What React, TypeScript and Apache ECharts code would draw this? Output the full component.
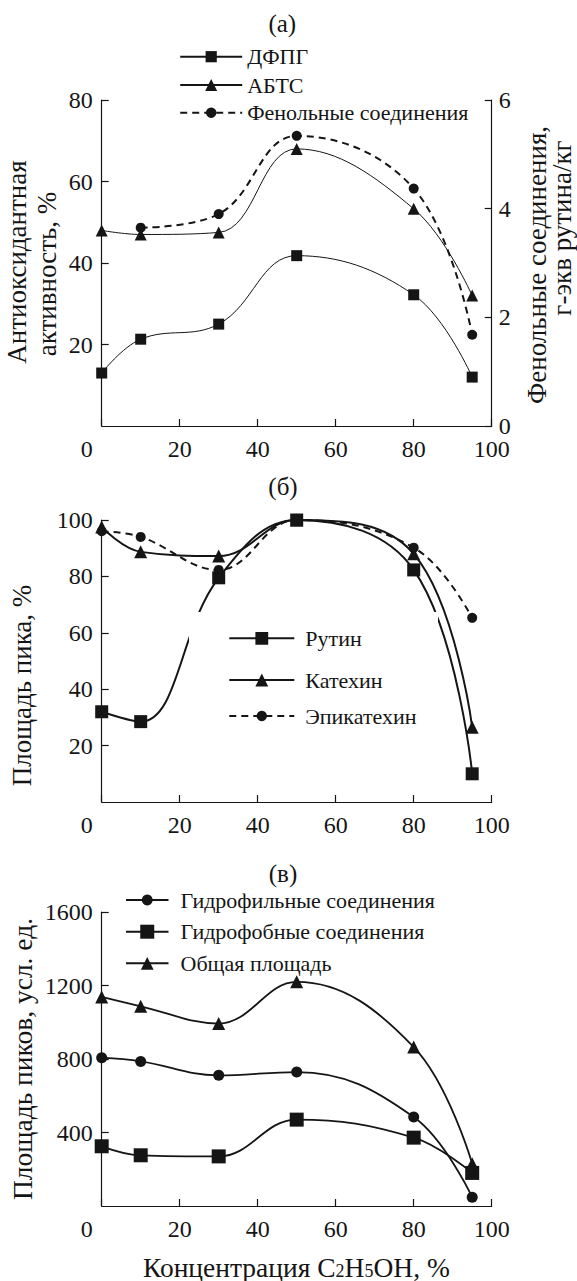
import React, { useEffect, useRef } from 'react';
import * as echarts from 'echarts';

// Ethanol concentration, %
const ethanol = [0, 10, 30, 50, 80, 95];
// Panel (а)
const dpph = [13, 21.3, 25, 41.8, 32.2, 12];
const abts = [48, 47, 47.5, 68, 53.3, 32];
const phenolic: (number | null)[] = [null, 3.65, 3.9, 5.34, 4.37, 1.68];
// Panel (б)
const rutin = [32, 28.5, 79.5, 100, 82.3, 10];
const catechin = [97.5, 88.7, 87.2, 100, 88, 26.5];
const epicatechin = [96, 94, 82.3, 100, 90.2, 65.3];
// Panel (в)
const hydrophilic = [807, 787, 711, 729, 484, 48];
const hydrophobic = [325, 276, 270, 470, 372, 180];
const totalArea = [1138, 1087, 993, 1220, 865, 230];

const xTicks = { min: 0, max: 100, interval: 20 };
const F = 'Liberation Serif';
const C = '#151515';

const pairs = (ys: (number | null)[]) =>
  ethanol.map((x, i) => [x, ys[i]]).filter((p) => p[1] !== null);

function line(name: string, ys: (number | null)[], gi: number, yi: number, symbol: string, size: number, width: number, dashed = false, z = 2) {
  return {
    type: 'line', name, xAxisIndex: gi, yAxisIndex: yi, data: pairs(ys), smooth: 0.4,
    symbol, symbolSize: size, showSymbol: true, z,
    lineStyle: { color: C, width, type: dashed ? [7, 5] : 'solid' },
    itemStyle: { color: C },
  };
}

function leg(name: string, left: number, cy: number, iw: number, ih: number, padL: number) {
  return {
    data: [name], left, top: cy - 11, orient: 'vertical', padding: 0, itemWidth: iw, itemHeight: ih,
    selectedMode: false,
    textStyle: { fontFamily: F, fontSize: 22, color: C, padding: [0, 0, 0, padL] },
  };
}

const tickLabel = { fontFamily: F, fontSize: 24, color: C };

function xAxis(gi: number) {
  return {
    type: 'value', gridIndex: gi, ...xTicks,
    axisLine: { lineStyle: { color: C, width: 1.2 } },
    axisTick: { inside: true, length: 7, lineStyle: { color: C, width: 1.2 } },
    splitLine: { show: false },
    axisLabel: {
      ...tickLabel, margin: 11,
      formatter: (v: number) => (v === 0 ? '{z|0}' : String(v)),
      rich: { z: { ...tickLabel, padding: [0, 30, 0, 0] } },
    },
  };
}

function yAxis(gi: number, min: number, max: number, interval: number, position = 'left', showMin = false) {
  return {
    type: 'value', gridIndex: gi, min, max, interval, position,
    axisLine: { show: true, lineStyle: { color: C, width: 1.2 } },
    axisTick: { show: true, inside: true, length: 7, lineStyle: { color: C, width: 1.2 } },
    splitLine: { show: false },
    axisLabel: {
      ...tickLabel, margin: position === 'left' ? 9 : 7, showMinLabel: showMin,
      formatter: (v: number) => String(v),
    },
  };
}

function txt(text: string, x: number, y: number, size: number, rot = 0, extra: any = {}) {
  return {
    type: 'text', x, y, rotation: rot, z: 10,
    style: { text, fontFamily: F, fontSize: size, fill: C, align: 'center', verticalAlign: 'middle', ...extra },
  };
}

export default function App() {
  const ref = useRef<HTMLDivElement>(null);
  useEffect(() => {
    const chart = echarts.init(ref.current!, null, { renderer: 'svg' });
    const R = Math.PI / 2;
    chart.setOption({
      animation: false,
      backgroundColor: '#fff',
      textStyle: { fontFamily: F },
      grid: [
        { left: 101.7, right: 85.3, top: 100, height: 326 },
        { left: 101.7, right: 85.3, top: 520, height: 282 },
        { left: 101.7, right: 85.3, top: 912, height: 294 },
      ],
      xAxis: [xAxis(0), xAxis(1), xAxis(2)],
      yAxis: [
        yAxis(0, 0, 80, 20, 'left'),
        yAxis(0, 0, 6, 2, 'right', true),
        yAxis(1, 0, 100, 20, 'left'),
        yAxis(2, 0, 1600, 400, 'left'),
      ],
      legend: [
        leg('ДФПГ', 179.2, 56.7, 62, 14, 0),
        leg('АБТС', 179.2, 85, 62, 15, 0),
        leg('Фенольные соединения', 179.2, 112.7, 62, 13, 0),
        leg('Рутин', 228.3, 638.3, 65, 16, 6),
        leg('Катехин', 228.3, 680, 65, 16, 6),
        leg('Эпикатехин', 228.3, 716, 65, 13, 6),
        leg('Гидрофильные соединения', 125, 900, 42.5, 13.5, 7),
        leg('Гидрофобные соединения', 125, 931.7, 42.5, 17.5, 7),
        leg('Общая площадь', 125, 963.3, 42.5, 16, 7),
      ],
      series: [
        line('ДФПГ', dpph, 0, 0, 'rect', 11, 1),
        line('АБТС', abts, 0, 0, 'triangle', 12, 1),
        line('Фенольные соединения', phenolic, 0, 1, 'circle', 10, 2, true),
        line('Рутин', rutin, 1, 2, 'rect', 13, 2, false, 2),
        line('Катехин', catechin, 1, 2, 'triangle', 13, 2, false, 5),
        line('Эпикатехин', epicatechin, 1, 2, 'circle', 10, 2, true, 5),
        line('Гидрофильные соединения', hydrophilic, 2, 3, 'circle', 11, 1.8),
        line('Гидрофобные соединения', hydrophobic, 2, 3, 'rect', 14, 1.8),
        line('Общая площадь', totalArea, 2, 3, 'triangle', 13, 1.8),
      ],
      graphic: {
        elements: [
          { type: 'rect', z: 3, shape: { x: 189, y: 612, width: 249, height: 123 }, style: { fill: '#fff' } },
          txt('(а)', 282.3, 23, 25),
          txt('(б)', 283, 486.7, 25),
          txt('(в)', 283, 873.3, 25),
          txt('Антиоксидантная', 16.6, 262, 27, R),
          txt('активность, %', 46.5, 274, 27, R),
          txt('Фенольные соединения,', 537, 265, 27, R),
          txt('г-экв рутина/кг', 562, 228, 27, R),
          txt('Площадь пика, %', 22, 685.5, 27, R),
          txt('Площадь пиков, усл. ед.', 22, 1059, 27.5, R),
          txt('Концентрация C{s|2}H{s|5}OH, %', 296.4, 1267, 27.5, 0, {
            rich: { s: { fontFamily: F, fontSize: 18, fill: C, padding: [7, 0, 0, 0] } },
          }),
        ],
      },
    });
    return () => chart.dispose();
  }, []);
  return <div ref={ref} style={{ position: 'absolute', left: 0, top: 0, width: 577, height: 1281 }} />;
}
